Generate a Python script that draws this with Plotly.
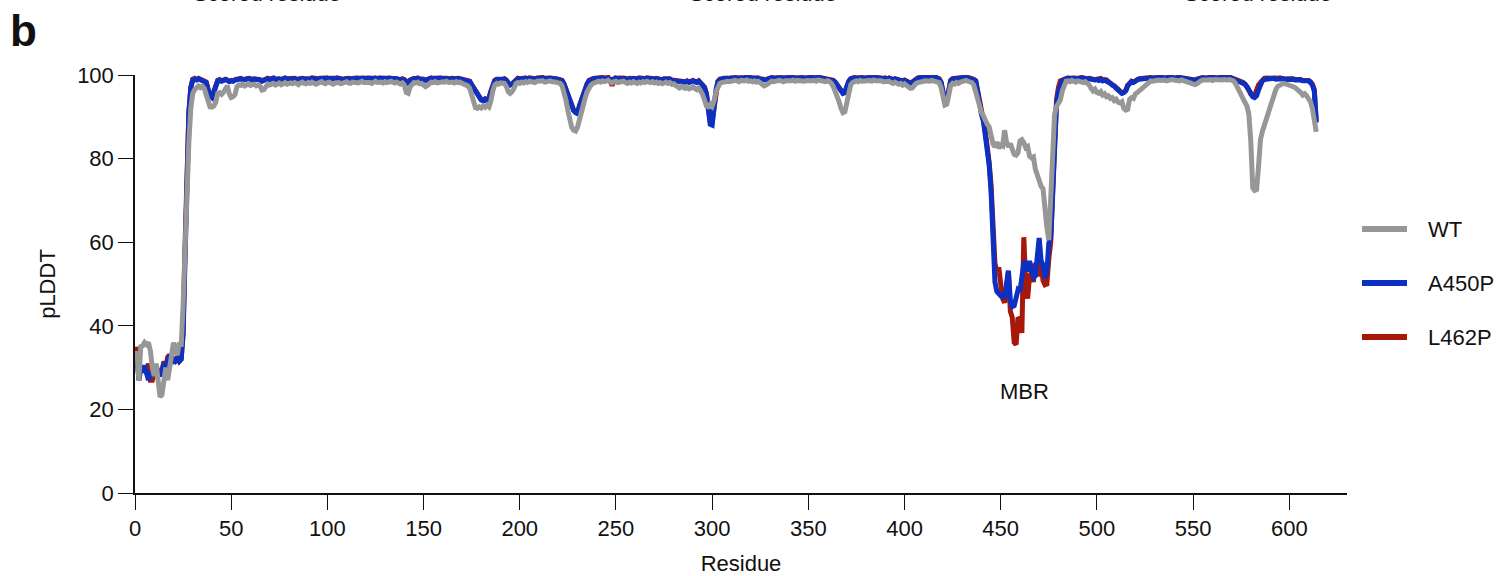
import plotly.graph_objects as go

# Per-residue pLDDT scores for the three structures
residues = list(range(1, 615))

wt = [
    34.0, 27.0, 35.0, 35.2, 36.0, 35.5, 36.0, 34.0, 30.0, 28.0,
    31.0, 27.0, 23.0, 23.5, 27.0, 30.0, 27.0, 30.0, 33.0, 36.0,
    34.0, 33.0, 36.0, 35.0, 45.0, 60.0, 72.0, 84.0, 92.0, 95.5,
    96.5, 97.2, 97.4, 97.0, 97.3, 96.8, 95.5, 93.5, 92.4, 92.3,
    92.6, 93.5, 95.6, 95.8, 95.4, 95.9, 97.0, 97.4, 95.5, 94.6,
    94.8, 95.3, 97.2, 97.6, 97.5, 97.8, 97.4, 97.6, 97.9, 97.5,
    97.7, 97.8, 97.4, 97.6, 97.3, 96.4, 96.5, 97.4, 97.8, 97.6,
    97.9, 98.0, 97.6, 97.8, 98.1, 97.7, 97.9, 98.2, 97.8, 98.0,
    98.1, 97.9, 98.2, 98.0, 97.7, 98.1, 98.3, 98.0, 97.9, 98.2,
    98.0, 98.3, 98.1, 97.8, 98.0, 98.2, 98.4, 98.1, 97.9, 98.2,
    98.3, 98.0, 97.8, 98.1, 98.3, 98.2, 97.9, 98.0, 98.2, 98.4,
    98.1, 98.0, 98.3, 98.2, 98.4, 98.1, 98.3, 98.5, 98.2, 98.3,
    98.4, 98.2, 98.0, 98.3, 98.5, 98.2, 98.4, 98.3, 98.1, 98.4,
    98.2, 98.4, 98.5, 98.3, 98.1, 98.3, 98.0, 97.8, 98.1, 97.6,
    95.8, 95.6, 97.2, 98.0, 98.2, 98.1, 98.3, 97.9, 98.0, 97.6,
    97.2, 97.5, 98.1, 98.3, 98.2, 98.4, 98.1, 98.3, 98.2, 98.4,
    98.3, 98.5, 98.2, 98.4, 98.3, 98.1, 98.4, 98.2, 98.3, 98.0,
    97.8, 97.9, 97.4, 96.8, 95.0, 93.0, 92.2, 92.0, 92.4, 92.1,
    92.6, 92.3, 92.8, 92.4, 93.8, 96.2, 97.6, 98.0, 97.8, 98.1,
    97.9, 98.0, 97.3, 96.0, 95.6, 96.0, 96.8, 97.9, 98.2, 98.0,
    98.3, 98.1, 98.4, 98.2, 98.5, 98.3, 98.4, 98.2, 98.5, 98.6,
    98.4, 98.6, 98.3, 98.5, 98.7, 98.6, 98.4, 98.5, 98.3, 98.1,
    98.0, 97.4, 96.0, 94.0, 91.5, 89.0, 87.5, 86.8, 86.6, 87.5,
    89.5, 91.0, 92.5, 94.5, 96.0, 97.0, 97.6, 98.0, 98.2, 98.4,
    98.5, 98.3, 98.6, 98.4, 98.5, 98.7, 98.3, 98.1, 98.4, 98.5,
    98.2, 98.4, 98.3, 98.5, 98.2, 98.0, 98.3, 98.1, 98.4, 98.2,
    98.0, 98.3, 98.1, 98.4, 98.2, 98.5, 98.3, 98.2, 98.4, 98.1,
    98.3, 98.0, 98.2, 97.9, 98.1, 98.3, 98.0, 98.2, 97.8, 97.9,
    97.5, 97.2, 96.9, 97.3, 97.0, 96.8, 97.1, 96.7, 96.9, 97.2,
    96.8, 96.5, 96.9, 96.2, 95.4, 94.0, 92.6, 92.4, 93.0, 92.5,
    93.8, 96.0, 97.4, 98.0, 98.2, 98.4, 98.3, 98.5, 98.4, 98.6,
    98.5, 98.7, 98.6, 98.4, 98.7, 98.5, 98.6, 98.8, 98.5, 98.6,
    98.4, 98.6, 98.3, 98.5, 98.2, 98.0, 97.4, 97.6, 98.0, 98.3,
    98.5, 98.4, 98.6, 98.5, 98.7, 98.6, 98.4, 98.6, 98.5, 98.7,
    98.6, 98.8, 98.5, 98.7, 98.6, 98.8, 98.7, 98.5, 98.7, 98.6,
    98.8, 98.6, 98.7, 98.5, 98.8, 98.6, 98.7, 98.5, 98.4, 98.6,
    98.4, 98.0, 97.2, 96.2, 95.0, 93.6, 92.0, 91.0, 91.2, 93.5,
    96.0, 97.6, 98.2, 98.5, 98.6, 98.4, 98.7, 98.5, 98.6, 98.8,
    98.6, 98.7, 98.5, 98.8, 98.6, 98.7, 98.5, 98.6, 98.4, 98.5,
    98.3, 98.5, 98.2, 98.0, 98.3, 98.1, 97.8, 98.0, 97.6, 97.9,
    97.4, 97.2, 96.8, 96.9, 97.6, 98.0, 98.2, 98.4, 98.3, 98.5,
    98.6, 98.4, 98.5, 98.7, 98.5, 98.6, 98.4, 98.2, 97.0, 94.5,
    92.8, 93.0, 95.5, 97.5, 98.0, 97.8, 98.2, 98.0, 98.3, 98.5,
    98.6, 98.7, 98.5, 98.4, 98.2, 97.6, 96.0, 93.5, 92.0, 91.0,
    90.2, 89.0, 88.2, 87.6, 85.0, 83.5, 82.8, 84.0, 82.5, 83.2,
    83.0, 86.8, 84.0, 82.8, 83.6, 81.8, 81.0, 80.8, 81.4, 84.2,
    84.5, 83.8, 82.6, 82.9, 80.6, 80.2, 80.4, 77.5, 76.0, 75.2,
    73.4, 72.8, 67.0, 63.5, 60.5, 70.0, 82.0, 90.5, 92.5, 93.2,
    94.0, 96.2, 97.8, 98.5, 98.6, 98.4, 98.7, 98.5, 98.3, 98.6,
    98.4, 98.5, 98.2, 98.4, 98.1, 97.6, 96.8, 96.2, 96.6, 95.8,
    95.6, 96.0, 95.2, 95.5, 94.8, 95.0, 94.4, 94.6, 93.9, 94.2,
    93.5, 93.3, 93.6, 92.0, 91.6, 91.8, 94.2, 94.6, 94.4, 95.5,
    95.8, 96.2, 96.9, 97.1, 97.4, 98.0, 98.4, 98.6, 98.5, 98.7,
    98.6, 98.8, 98.7, 98.9, 98.8, 98.6, 98.8, 98.7, 98.9, 98.8,
    98.7, 98.9, 98.6, 98.8, 98.7, 98.5, 98.3, 98.2, 98.0, 97.8,
    97.7, 97.9, 98.4, 98.6, 98.8, 98.7, 98.9, 98.8, 98.9, 98.7,
    98.9, 98.8, 98.7, 98.9, 98.8, 98.9, 98.7, 98.8, 98.9, 98.8,
    98.6, 98.0, 97.0, 95.8, 94.8, 94.0, 93.4, 92.6, 90.5, 84.0,
    73.0, 72.4, 72.6, 78.0, 84.5, 86.5, 88.0, 90.0, 91.5, 92.6,
    93.8, 95.0, 96.5, 97.3, 97.6, 97.8, 98.0, 97.9, 97.8, 97.6,
    97.5, 97.2, 97.0, 96.6, 96.4, 95.8, 95.2, 95.5, 95.0, 94.2,
    93.6, 92.0, 89.0, 86.4,
]

a450p = [
    33.0, 27.0, 30.0, 29.0, 30.5, 28.0, 27.0, 29.0, 28.0, 29.5,
    30.0, 29.0, 28.0, 29.0, 31.0, 30.0, 32.0, 33.0, 31.0, 32.0,
    31.5, 32.0, 31.5, 32.0, 38.0, 58.0, 78.0, 91.0, 97.0, 98.8,
    99.0, 98.8, 99.1, 98.9, 98.6, 98.7, 98.2, 96.5, 95.0, 94.6,
    95.8, 97.8, 98.6, 98.8, 98.5, 98.7, 98.9, 98.7, 98.4, 98.6,
    98.5, 98.8, 99.0, 98.9, 99.1, 98.8, 99.0, 98.9, 99.1, 99.0,
    98.8, 99.0, 98.9, 99.1, 98.8, 98.5, 98.7, 99.0, 99.1, 98.9,
    99.0, 99.2, 98.9, 99.1, 99.0, 98.8, 99.1, 99.2, 99.0, 99.1,
    99.2, 99.0, 99.1, 98.9, 99.0, 99.2, 99.1, 99.0, 98.9, 99.1,
    99.0, 99.2, 99.1, 98.9, 99.0, 99.1, 99.2, 99.0, 99.1, 99.2,
    99.1, 99.0, 98.9, 99.1, 99.2, 99.0, 99.1, 98.9, 99.0, 99.2,
    99.1, 99.0, 99.2, 99.1, 99.2, 99.0, 99.1, 99.2, 99.0, 99.1,
    99.2, 99.1, 99.0, 99.1, 99.2, 99.0, 99.2, 99.1, 99.0, 99.2,
    99.1, 99.2, 99.2, 99.1, 99.0, 99.1, 98.9, 98.8, 99.0, 98.8,
    98.2, 98.0, 98.7, 99.0, 99.1, 99.0, 99.2, 99.0, 99.1, 98.9,
    98.7, 98.9, 99.1, 99.2, 99.1, 99.2, 99.0, 99.1, 99.2, 99.1,
    99.2, 99.1, 99.0, 99.2, 99.1, 99.0, 99.2, 99.1, 99.0, 98.9,
    98.9, 98.8, 98.8, 98.4, 97.6, 96.8, 96.0, 95.5, 94.8, 94.0,
    93.8, 94.2, 93.9, 94.4, 96.0, 97.8, 98.6, 98.9, 98.8, 99.0,
    98.9, 99.0, 98.7, 98.0, 97.6, 97.8, 98.3, 98.9, 99.1, 99.0,
    99.2, 99.1, 99.2, 99.0, 99.2, 99.1, 99.2, 99.0, 99.2, 99.3,
    99.2, 99.3, 99.1, 99.2, 99.3, 99.2, 99.1, 99.2, 99.0, 98.9,
    98.8, 98.6, 97.8, 96.5, 95.0, 93.5, 92.2, 91.5, 91.0, 90.8,
    92.5, 94.0, 95.2, 96.5, 97.8, 98.6, 98.9, 99.0, 99.1, 99.2,
    99.2, 99.1, 99.3, 99.2, 99.1, 99.3, 99.0, 98.9, 99.1, 99.2,
    99.1, 99.2, 99.0, 99.2, 99.1, 98.9, 99.1, 99.0, 99.2, 99.1,
    99.0, 99.2, 99.1, 99.2, 99.0, 99.2, 99.1, 99.0, 99.2, 99.0,
    99.1, 98.9, 99.0, 98.8, 99.0, 99.1, 98.9, 99.0, 98.7, 98.8,
    98.6, 98.5, 98.4, 98.6, 98.5, 98.3, 98.5, 98.2, 98.4, 98.6,
    98.4, 98.2, 98.5, 98.0, 97.8, 97.0, 95.5, 92.5, 88.2, 88.0,
    92.5, 96.5, 98.4, 98.9, 99.0, 99.2, 99.1, 99.2, 99.1, 99.3,
    99.2, 99.3, 99.2, 99.1, 99.3, 99.2, 99.3, 99.4, 99.2, 99.3,
    99.2, 99.3, 99.1, 99.2, 99.0, 98.9, 98.6, 98.8, 99.0, 99.2,
    99.3, 99.2, 99.3, 99.2, 99.4, 99.3, 99.2, 99.3, 99.2, 99.4,
    99.3, 99.4, 99.2, 99.3, 99.3, 99.4, 99.3, 99.2, 99.4, 99.3,
    99.4, 99.3, 99.3, 99.2, 99.4, 99.3, 99.3, 99.2, 99.1, 99.2,
    99.1, 98.9, 98.6, 98.2, 97.6, 96.8, 96.0, 95.6, 95.8, 97.2,
    98.4, 99.0, 99.2, 99.3, 99.2, 99.3, 99.4, 99.3, 99.2, 99.4,
    99.3, 99.4, 99.2, 99.4, 99.3, 99.3, 99.2, 99.3, 99.1, 99.2,
    99.0, 99.2, 99.0, 98.8, 99.0, 98.9, 98.6, 98.8, 98.5, 98.7,
    98.4, 98.3, 98.0, 98.2, 98.6, 99.0, 99.2, 99.3, 99.2, 99.3,
    99.4, 99.3, 99.3, 99.4, 99.3, 99.4, 99.2, 99.0, 98.2, 96.0,
    93.6, 93.8, 96.5, 98.6, 99.0, 99.1, 99.2, 99.1, 99.3, 99.4,
    99.3, 99.4, 99.3, 99.2, 99.1, 99.0, 98.6, 96.0, 93.0, 90.5,
    89.0, 86.0, 82.5, 78.5, 72.0, 60.0, 50.5, 48.2, 47.6, 47.2,
    47.4, 46.5, 50.0, 53.2, 46.0, 44.6, 44.8, 47.0, 48.6, 48.2,
    52.0, 55.0, 55.4, 53.0, 55.5, 53.0, 51.6, 52.0, 58.0, 61.0,
    55.6, 54.5, 51.4, 53.0, 59.8, 61.0, 71.5, 84.0, 93.0, 96.0,
    97.8, 98.6, 98.9, 99.1, 99.2, 99.1, 99.3, 99.2, 99.1, 99.3,
    99.2, 99.3, 99.1, 99.2, 99.0, 99.1, 98.9, 99.0, 98.8, 98.9,
    98.7, 98.9, 98.6, 98.8, 98.6, 98.2, 98.0, 97.6, 97.4, 96.8,
    96.5, 96.0, 95.6, 95.8, 96.2, 97.4, 98.0, 98.4, 98.2, 98.6,
    98.8, 99.0, 99.1, 99.2, 99.1, 99.3, 99.2, 99.3, 99.2, 99.4,
    99.3, 99.4, 99.3, 99.4, 99.3, 99.2, 99.4, 99.3, 99.4, 99.3,
    99.2, 99.4, 99.3, 99.4, 99.2, 99.1, 99.0, 99.1, 98.9, 98.8,
    98.7, 98.9, 99.1, 99.2, 99.3, 99.2, 99.4, 99.3, 99.4, 99.3,
    99.4, 99.3, 99.2, 99.4, 99.3, 99.4, 99.2, 99.3, 99.4, 99.2,
    99.1, 98.8, 98.6, 98.4, 98.5, 98.2, 97.8, 97.2, 96.4, 95.4,
    94.8, 94.6, 95.0, 96.4, 97.8, 98.6, 98.9, 99.0, 99.1, 99.2,
    99.1, 99.2, 99.0, 99.1, 99.2, 99.0, 99.1, 98.9, 99.0, 99.1,
    98.9, 99.0, 98.8, 98.9, 98.7, 98.8, 98.6, 98.7, 98.5, 98.6,
    98.2, 97.6, 96.2, 88.6,
]

l462p = [
    35.0, 27.0, 30.0, 29.5, 30.0, 28.5, 31.0, 27.0, 27.0, 29.0,
    30.5, 29.0, 28.5, 29.0, 31.5, 30.0, 32.5, 33.0, 31.5, 32.0,
    32.0, 32.5, 31.5, 32.0, 38.5, 59.0, 78.5, 91.0, 97.0, 99.0,
    99.2, 98.9, 99.2, 99.0, 98.7, 98.8, 98.3, 96.6, 95.2, 94.8,
    96.0, 97.9, 98.7, 98.9, 98.6, 98.8, 99.0, 98.8, 98.5, 98.7,
    98.6, 98.9, 99.1, 99.0, 99.2, 98.9, 99.1, 99.0, 99.2, 99.1,
    98.9, 99.1, 99.0, 99.2, 98.9, 98.6, 98.8, 99.1, 99.2, 99.0,
    99.1, 99.3, 99.0, 99.2, 99.1, 98.9, 99.2, 99.3, 99.1, 99.2,
    99.3, 99.1, 99.2, 99.0, 99.1, 99.3, 99.2, 99.1, 99.0, 99.2,
    99.1, 99.3, 99.2, 99.0, 99.1, 99.2, 99.3, 99.1, 99.2, 99.3,
    99.2, 99.1, 99.0, 99.2, 99.3, 99.1, 99.2, 99.0, 99.1, 99.3,
    99.2, 99.1, 99.3, 99.2, 99.3, 99.1, 99.2, 99.3, 99.1, 99.2,
    99.3, 99.2, 99.1, 99.2, 99.3, 99.1, 99.3, 99.2, 99.1, 99.3,
    99.2, 99.3, 99.3, 99.2, 99.1, 99.2, 99.0, 98.9, 99.1, 98.9,
    98.3, 98.1, 98.8, 99.1, 99.2, 99.1, 99.3, 99.1, 99.2, 99.0,
    98.8, 99.0, 99.2, 99.3, 99.2, 99.3, 99.1, 99.2, 99.3, 99.2,
    99.3, 99.2, 99.1, 99.3, 99.2, 99.1, 99.3, 99.2, 99.1, 99.0,
    99.0, 98.9, 98.9, 98.5, 97.7, 96.9, 96.1, 95.6, 94.9, 94.1,
    93.9, 94.3, 94.0, 94.5, 96.1, 97.9, 98.7, 99.0, 98.9, 99.1,
    99.0, 99.1, 98.8, 98.1, 97.7, 97.9, 98.4, 99.0, 99.2, 99.1,
    99.3, 99.2, 99.3, 99.1, 99.3, 99.2, 99.3, 99.1, 99.3, 99.4,
    99.3, 99.4, 99.2, 99.3, 99.4, 99.3, 99.2, 99.3, 99.1, 99.0,
    98.9, 98.7, 97.9, 96.6, 95.1, 93.6, 92.3, 91.6, 91.1, 90.9,
    92.6, 94.1, 95.3, 96.6, 97.9, 98.7, 99.0, 99.1, 99.2, 99.3,
    99.3, 99.2, 99.4, 99.3, 99.2, 99.4, 98.6, 97.5, 98.5, 99.3,
    99.2, 99.3, 99.1, 99.3, 99.2, 99.0, 99.2, 99.1, 99.3, 99.2,
    99.1, 99.3, 99.2, 99.3, 99.1, 99.3, 99.2, 99.1, 99.3, 99.1,
    99.2, 99.0, 99.1, 98.9, 99.1, 99.2, 99.0, 99.1, 98.8, 98.9,
    98.7, 98.6, 98.5, 98.7, 98.6, 98.4, 98.6, 98.3, 98.5, 98.7,
    98.5, 98.3, 98.6, 98.1, 97.9, 97.1, 95.6, 92.8, 89.0, 88.8,
    92.8, 96.6, 98.5, 99.0, 99.1, 99.3, 99.2, 99.3, 99.2, 99.4,
    99.3, 99.4, 99.3, 99.2, 99.4, 99.3, 99.4, 99.5, 99.3, 99.4,
    99.3, 99.4, 99.2, 99.3, 99.1, 99.0, 98.7, 98.9, 99.1, 99.3,
    99.4, 99.3, 99.4, 99.3, 99.5, 99.4, 99.3, 99.4, 99.3, 99.5,
    99.4, 99.5, 99.3, 99.4, 99.4, 99.5, 99.4, 99.3, 99.5, 99.4,
    99.5, 99.4, 99.4, 99.3, 99.5, 99.4, 99.4, 99.3, 99.2, 99.3,
    99.2, 99.0, 98.7, 98.3, 97.7, 96.9, 96.1, 95.7, 95.9, 97.3,
    98.5, 99.1, 99.3, 99.4, 99.3, 99.4, 99.5, 99.4, 99.3, 99.5,
    99.4, 99.5, 99.3, 99.5, 99.4, 99.4, 99.3, 99.4, 99.2, 99.3,
    99.1, 99.3, 99.1, 98.9, 99.1, 99.0, 98.7, 98.9, 98.6, 98.8,
    98.5, 98.4, 98.1, 98.3, 98.7, 99.1, 99.3, 99.4, 99.3, 99.4,
    99.5, 99.4, 99.4, 99.5, 99.4, 99.5, 99.3, 99.1, 98.3, 96.1,
    93.7, 93.9, 96.6, 98.7, 99.1, 99.2, 99.3, 99.2, 99.4, 99.5,
    99.4, 99.5, 99.4, 99.3, 99.2, 99.0, 98.6, 96.5, 93.5, 91.0,
    89.2, 86.5, 83.0, 79.0, 73.5, 63.0, 55.0, 53.0, 54.0, 50.0,
    46.5, 45.5, 50.5, 53.0, 43.5, 42.0, 36.0, 35.5, 42.0, 41.5,
    38.3, 61.2, 50.0, 46.5, 52.0, 52.6, 50.5, 55.0, 53.0, 52.0,
    55.0, 50.8, 49.8, 50.0, 56.0, 60.0, 72.0, 86.0, 94.0, 97.0,
    98.6, 98.8, 99.0, 99.2, 99.3, 99.2, 99.4, 99.3, 99.2, 99.4,
    99.3, 99.4, 99.2, 99.3, 99.1, 99.2, 99.0, 99.1, 98.9, 99.0,
    99.0, 99.2, 98.9, 99.0, 98.8, 98.4, 98.1, 97.7, 97.5, 96.9,
    96.6, 96.1, 95.7, 95.9, 96.3, 97.5, 98.1, 98.5, 98.3, 98.7,
    98.9, 99.1, 99.2, 99.3, 99.2, 99.4, 99.3, 99.4, 99.3, 99.5,
    99.4, 99.5, 99.4, 99.5, 99.4, 99.3, 99.5, 99.4, 99.5, 99.4,
    99.3, 99.5, 99.4, 99.5, 99.3, 99.2, 99.1, 99.2, 99.0, 98.9,
    98.8, 99.0, 99.2, 99.3, 99.4, 99.3, 99.5, 99.4, 99.5, 99.4,
    99.5, 99.4, 99.3, 99.5, 99.4, 99.5, 99.3, 99.4, 99.5, 99.3,
    99.2, 98.9, 98.7, 98.5, 98.6, 98.2, 97.8, 97.2, 96.4, 95.4,
    95.0, 95.2, 96.8, 97.6, 98.2, 98.8, 99.2, 99.3, 99.2, 99.3,
    99.2, 99.3, 99.1, 99.2, 99.3, 99.1, 99.2, 99.0, 99.1, 99.2,
    99.0, 99.1, 98.9, 99.0, 98.8, 98.9, 98.7, 98.8, 98.6, 98.7,
    98.4, 97.8, 96.5, 89.0,
]

series_names = ["WT", "A450P", "L462P"]
series_colors = {"WT": "#979797", "A450P": "#0b30c2", "L462P": "#a8180a"}
series_values = {"WT": wt, "A450P": a450p, "L462P": l462p}

x_ticks = list(range(0, 601, 50))
y_ticks = list(range(0, 101, 20))
panel_titles = ["Scored residue", "Scored residue", "Scored residue"]

FONT = "Arial, 'Liberation Sans', Helvetica, sans-serif"

# plot-area geometry in pixels, used to place the hand-drawn legend
L, R, T, B = 135, 152, 75, 83
W, H = 1499, 576
PW, PH = W - L - R, H - T - B


def px_to_paper_x(px):
    return (px - L) / PW


def px_to_paper_y(py):
    return (H - B - py) / PH


fig = go.Figure()

# mutants underneath, wild type on top
for name in ["L462P", "A450P", "WT"]:
    fig.add_trace(go.Scatter(
        x=residues, y=series_values[name], mode="lines", name=name,
        line=dict(color=series_colors[name], width=5),
        showlegend=False, hoverinfo="x+y+name",
    ))

annotations = []
shapes = []

# legend: sample line + label for each series
for i, name in enumerate(series_names):
    ly = 229 + i * 54
    shapes.append(dict(
        type="line", xref="paper", yref="paper",
        x0=px_to_paper_x(1362), x1=px_to_paper_x(1407),
        y0=px_to_paper_y(ly), y1=px_to_paper_y(ly),
        line=dict(color=series_colors[name], width=6),
    ))
    annotations.append(dict(
        text=name, xref="paper", yref="paper",
        x=px_to_paper_x(1426), y=px_to_paper_y(ly),
        xanchor="left", yanchor="middle", showarrow=False,
        font=dict(family=FONT, size=22, color="#111111"),
    ))

# region label under the membrane-binding dip
annotations.append(dict(
    text="MBR", x=462.5, y=24.2, xref="x", yref="y", showarrow=False,
    xanchor="center", yanchor="middle",
    font=dict(family=FONT, size=22, color="#111111"),
))

# panel letter
annotations.append(dict(
    text="<b>b</b>", xref="paper", yref="paper",
    x=px_to_paper_x(8), y=px_to_paper_y(30),
    xanchor="left", yanchor="middle", showarrow=False,
    font=dict(family=FONT, size=44, color="#111111"),
))

# axis titles of the panel row above, running off the top edge
for cx, t in zip([267, 763, 1258], panel_titles):
    annotations.append(dict(
        text=t, xref="paper", yref="paper",
        x=px_to_paper_x(cx), y=px_to_paper_y(8),
        xanchor="center", yanchor="bottom", showarrow=False,
        font=dict(family=FONT, size=22, color="#111111"),
    ))

axis_common = dict(
    showgrid=False, zeroline=False, showline=True, linecolor="#111111",
    linewidth=1.5, ticks="outside", ticklen=15, tickwidth=1.4,
    tickcolor="#111111", tickfont=dict(family=FONT, size=22, color="#111111"),
    automargin=False,
)

fig.update_layout(
    width=W, height=H, autosize=False,
    margin=dict(l=L, r=R, t=T, b=B, pad=0),
    paper_bgcolor="white", plot_bgcolor="white",
    xaxis=dict(range=[0, 630], tickvals=x_ticks,
               title=dict(text="Residue", font=dict(family=FONT, size=22, color="#111111"), standoff=15),
               **axis_common),
    yaxis=dict(range=[0, 100], tickvals=y_ticks,
               title=dict(text="pLDDT", font=dict(family=FONT, size=22, color="#111111"), standoff=15),
               **axis_common),
    annotations=annotations, shapes=shapes,
    showlegend=False,
)

fig.write_html("out.html")
